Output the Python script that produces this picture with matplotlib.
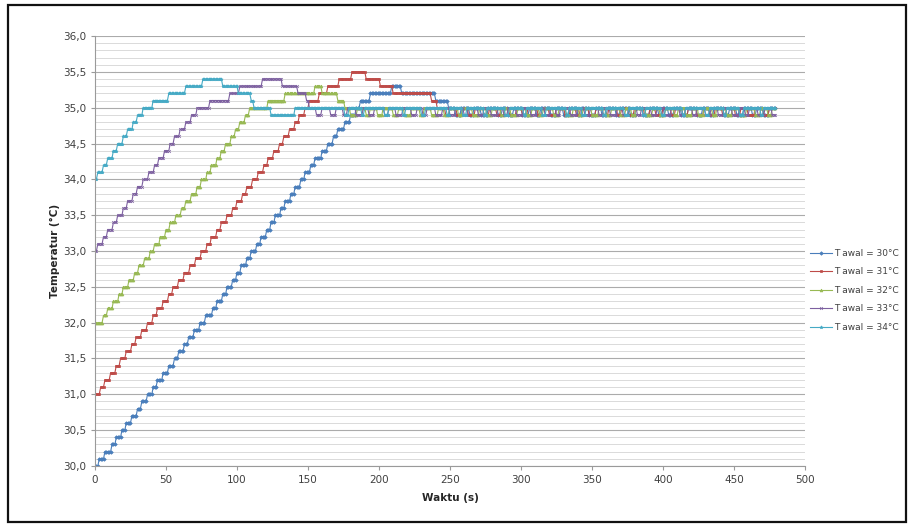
import matplotlib
matplotlib.use("Agg")
import matplotlib.pyplot as plt
import numpy as np
from matplotlib.patches import Rectangle
from matplotlib.ticker import MultipleLocator, FuncFormatter

# seconds spent on each 0.1 degC level while heating up,
# then the overshoot (level, seconds), then the 35,0 / 34,9 hunting (seconds, starting at 35,0)
labels = ["T awal = 30°C", "T awal = 31°C", "T awal = 32°C", "T awal = 33°C", "T awal = 34°C"]
starts = [30.0, 31.0, 32.0, 33.0, 34.0]
colors = ["#4a7ebb", "#be4b48", "#98b954", "#7d60a0", "#46aac5"]

blue_rise = [3, 4, 5, 3, 4, 3, 4, 4, 3, 4, 4, 3, 4, 4, 4, 3, 4, 3, 4, 4, 4, 5,
             3, 4, 3, 4, 3, 3, 4, 3, 4, 3, 4, 3, 3, 4, 3, 4, 3, 4, 3,
             4, 3, 5, 4, 4, 3, 5, 4, 4,
             3, 7, 15]
blue_top = [(35.3, 7), (35.2, 24), (35.1, 9)]
blue_osc = [5, 4, 6, 3, 5, 5, 7, 3, 4, 4, 6, 5, 5, 3, 7, 4, 5, 4, 6, 3, 5, 5, 4, 4, 6,
            3, 7, 4, 5, 5, 6, 3, 4, 4, 5, 5, 6, 4, 5, 3, 7, 4, 5, 5, 6, 3, 5, 4, 6, 4]

red_rise = [4, 3, 4, 4, 3, 4, 4, 3, 4, 4, 4, 3, 4, 4, 3, 4, 4, 4, 4, 4,
            4, 3, 4, 3, 4, 4, 3, 4, 3, 4, 4,
            4, 3, 4, 4, 3, 4, 4, 3, 4,
            3, 7, 6, 8, 9]
red_top = [(35.5, 10), (35.4, 10), (35.3, 9), (35.2, 27), (35.1, 4)]
red_osc = [6, 3, 5, 4, 4, 5, 6, 4, 5, 3, 6, 5, 4, 4, 7, 3, 5, 5, 6, 4, 4, 3, 6, 5, 5, 4,
           6, 3, 5, 4, 7, 4, 4, 5, 6, 3, 5, 4, 6, 5, 4, 4, 5, 3, 6, 4, 5, 5, 6, 4, 5, 4, 6]

green_rise = [6, 3, 4, 4, 3, 4, 4, 3, 4, 4, 3, 4, 4, 3, 4, 4, 3, 4, 4, 3, 4,
              3, 4, 3, 3, 4, 3, 3, 4, 3,
              13, 12, 21]
green_top = [(35.3, 5), (35.2, 11), (35.1, 5)]
green_osc = [4, 5, 6, 3, 5, 4, 7, 4, 4, 5, 6, 3, 5, 5, 4, 4, 6, 3, 7, 5, 5, 4, 6, 3, 4, 5,
             6, 4, 5, 3, 7, 4, 5, 5, 4, 3, 6, 5, 5, 4, 6, 4, 4, 3, 7, 5, 5, 4, 6, 3, 5, 5,
             4, 4, 6, 3, 7, 4, 5, 5, 6, 4, 5, 3, 6, 4]

purple_rise = [2, 4, 3, 4, 3, 4, 3, 4, 3, 4, 4,
               4, 3, 4, 4, 3, 4, 4, 4, 4,
               9, 14, 7, 16]
purple_top = [(35.4, 14), (35.3, 11), (35.2, 6), (35.1, 2)]
purple_osc = [5, 4, 6, 4, 5, 3, 6, 5, 4, 4, 7, 3, 5, 5, 6, 4, 4, 3, 6, 5, 5, 4, 6, 3, 7, 4,
              5, 5, 4, 3, 6, 5, 5, 4, 6, 4, 4, 3, 7, 5, 5, 4, 6, 3, 5, 5, 4, 4, 6, 3, 7, 4,
              5, 5, 6, 4, 5, 3, 6, 4, 5, 4, 6, 5, 4, 3, 6, 5, 5, 4]

cyan_rise = [2, 4, 3, 4, 3, 4, 3, 4, 3, 4,
             7, 11, 12, 12]
cyan_top = [(35.4, 14), (35.3, 11), (35.2, 9), (35.1, 2), (35.0, 12), (34.9, 17), (35.0, 23)]
cyan_osc = [12, 3, 9, 2, 14, 3, 10, 2, 11, 3, 15, 2, 9, 3, 12, 2, 13, 3, 10, 2, 11, 3,
            14, 2, 9, 3, 12, 2, 13, 3, 10, 2, 11, 3, 12, 2, 14, 3, 10, 2, 9, 3, 12, 2, 11, 3]

rises = [blue_rise, red_rise, green_rise, purple_rise, cyan_rise]
tops = [blue_top, red_top, green_top, purple_top, cyan_top]
oscs = [blue_osc, red_osc, green_osc, purple_osc, cyan_osc]
markers = ["D", "s", "^", "x", "*"]
sizes = [1.8, 1.6, 2.0, 2.0, 2.4]
t_end = 479


def series(start, rise, top, osc):
    levels, durs = [], []
    lv = start
    for d in rise:
        levels.append(lv)
        durs.append(d)
        lv = round(lv + 0.1, 1)
    for lv, d in top:
        levels.append(lv)
        durs.append(d)
    for i, d in enumerate(osc):
        levels.append(35.0 if i % 2 == 0 else 34.9)
        durs.append(d)
    y = np.repeat(levels, durs)[:t_end + 1]
    return np.arange(len(y)), y


fig = plt.figure(figsize=(9.09, 5.25), dpi=100)
ax = fig.add_axes([0.1045, 0.1124, 0.7811, 0.819])

for i in range(5):
    x, y = series(starts[i], rises[i], tops[i], oscs[i])
    ax.plot(x, y, color=colors[i], lw=0.8, marker=markers[i], ms=sizes[i],
            mew=0.5, label=labels[i])

ax.set_xlim(0, 500)
ax.set_ylim(30, 36)
ax.xaxis.set_major_locator(MultipleLocator(50))
ax.yaxis.set_major_locator(MultipleLocator(0.5))
ax.yaxis.set_minor_locator(MultipleLocator(0.1))
ax.yaxis.set_major_formatter(FuncFormatter(lambda v, p: f"{v:.1f}".replace(".", ",")))
ax.grid(axis="y", which="major", color="#ababab", lw=0.8)
ax.grid(axis="y", which="minor", color="#d4d4d4", lw=0.6)
ax.set_axisbelow(True)
for s in ["top", "right"]:
    ax.spines[s].set_visible(False)
for s in ["left", "bottom"]:
    ax.spines[s].set_color("#9a9a9a")
    ax.spines[s].set_linewidth(0.8)
ax.tick_params(which="major", labelsize=7.5, colors="#9a9a9a", labelcolor="#404040",
               length=3, width=0.8)
ax.tick_params(which="minor", length=0)

ax.set_xlabel("Waktu (s)", fontsize=7.5, fontweight="bold", color="#262626", labelpad=6)
ax.set_ylabel("Temperatur (°C)", fontsize=7.5, fontweight="bold", color="#262626", labelpad=2)

fig.legend(loc="center left", bbox_to_anchor=(0.884, 0.447), frameon=False,
           fontsize=6.5, labelspacing=1.05, handlelength=2.4, handletextpad=0.3,
           borderpad=0.2, labelcolor="#404040")

fig.patches.append(Rectangle((8 / 909, 3 / 525), 898 / 909, 517 / 525,
                             transform=fig.transFigure, fill=False,
                             edgecolor="#111111", lw=1.6))

fig.savefig("out.png", dpi=100)
